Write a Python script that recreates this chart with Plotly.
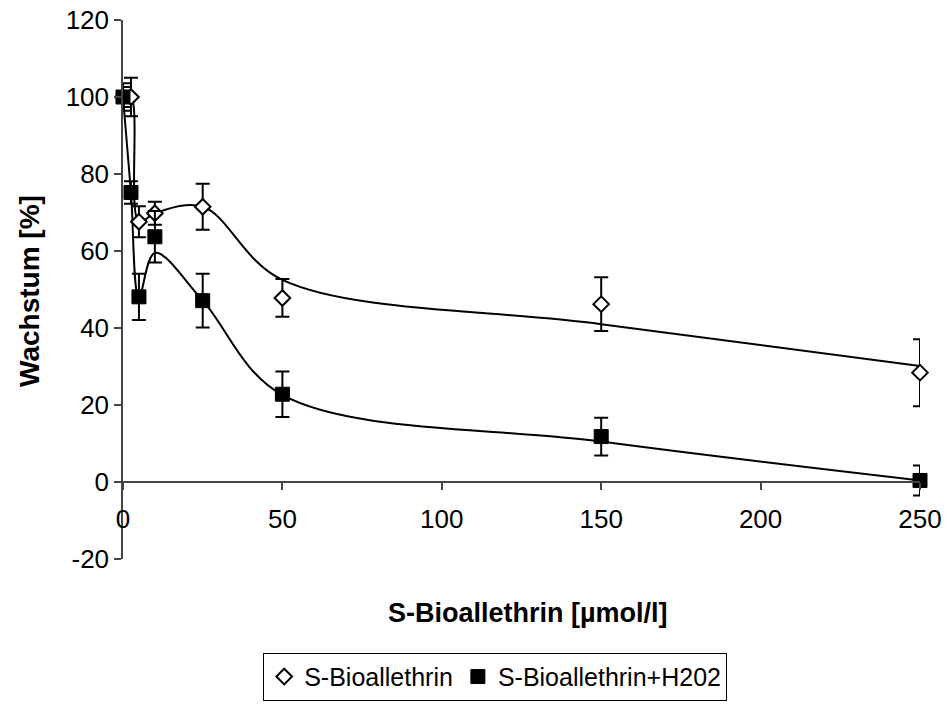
import plotly.graph_objects as go

# Data
# measured points with error bars
x_bio = [0, 2.5, 5, 10, 25, 50, 150, 250]
y_bio = [100, 100, 67.6, 69.8, 71.5, 47.8, 46.2, 28.4]
e_bio = [3.6, 5.0, 4.0, 3.0, 6.0, 4.9, 7.0, 8.7]

x_h2o2 = [0, 2.5, 5, 10, 25, 50, 150, 250]
y_h2o2 = [100, 75.2, 48.1, 63.7, 47.1, 22.8, 11.8, 0.4]
e_h2o2 = [2.6, 2.9, 6.0, 6.7, 7.0, 5.9, 4.9, 3.9]

# smoothed curves (separate series as drawn in the reference)
x_curve = [0, 2.5, 5, 10, 25, 50, 150, 250]
y_curve_bio = [100, 100, 67.6, 69.8, 71.5, 52.5, 41.0, 30.1]
y_curve_h2o2 = [100, 75.2, 48.1, 59.5, 47.1, 22.6, 10.5, 0.4]

x_ticks = [0, 50, 100, 150, 200, 250]
y_ticks = [-20, 0, 20, 40, 60, 80, 100, 120]

FONT = "Liberation Sans, Arial, sans-serif"

fig = go.Figure()

fig.add_trace(go.Scatter(x=x_curve, y=y_curve_bio, mode="lines",
                         line=dict(color="black", width=2, shape="spline", smoothing=1),
                         showlegend=False, hoverinfo="skip", cliponaxis=False))
fig.add_trace(go.Scatter(x=x_curve, y=y_curve_h2o2, mode="lines",
                         line=dict(color="black", width=2, shape="spline", smoothing=1),
                         showlegend=False, hoverinfo="skip", cliponaxis=False))

fig.add_trace(go.Scatter(x=x_bio, y=y_bio, mode="markers", name="S-Bioallethrin",
                         cliponaxis=False,
                         marker=dict(symbol="diamond", size=12, color="white",
                                     line=dict(color="black", width=2)),
                         error_y=dict(type="data", array=e_bio, visible=True,
                                      color="black", thickness=2, width=7)))
fig.add_trace(go.Scatter(x=x_h2o2, y=y_h2o2, mode="markers", name="S-Bioallethrin+H202",
                         cliponaxis=False,
                         marker=dict(symbol="square", size=14, color="black",
                                     line=dict(color="black", width=1)),
                         error_y=dict(type="data", array=e_h2o2, visible=True,
                                      color="black", thickness=2, width=7)))

fig.update_layout(
    width=947, height=716,
    margin=dict(l=123, r=27, t=20, b=157, autoexpand=False),
    paper_bgcolor="white", plot_bgcolor="white",
    font=dict(family=FONT, color="black", size=26),
    showlegend=True,
    legend=dict(orientation="h", x=0.467, xanchor="center", y=-0.174, yanchor="top",
                bordercolor="black", borderwidth=1, bgcolor="white",
                font=dict(size=25, family=FONT), itemwidth=30, tracegroupgap=0),
    xaxis=dict(range=[0, 250], tickvals=x_ticks, ticktext=[str(v) for v in x_ticks],
               showgrid=False, zeroline=False, showline=True, linecolor="#444", linewidth=1.5,
               ticks="outside", ticklen=7, tickcolor="#444", tickwidth=1.5,
               anchor="free", position=20/140, ticklabelstandoff=7, automargin=False,
               tickfont=dict(size=26, family=FONT)),
    yaxis=dict(range=[-20, 120], tickvals=y_ticks, ticktext=[str(v) for v in y_ticks],
               showgrid=False, zeroline=False, showline=True, linecolor="#444", linewidth=1.5,
               ticks="outside", ticklen=7, tickcolor="#444", tickwidth=1.5, automargin=False,
               tickfont=dict(size=26, family=FONT)),
    annotations=[
        dict(text="<b>Wachstum [%]</b>", textangle=-90, xref="paper", yref="paper",
             x=0, xshift=-94, y=(559 - 291) / 539, xanchor="center", yanchor="middle",
             showarrow=False, font=dict(size=28, family=FONT)),
        dict(text="<b>S-Bioallethrin [µmol/l]</b>", xref="paper", yref="paper",
             x=(528 - 123) / 797, y=(559 - 613) / 539, xanchor="center", yanchor="middle",
             showarrow=False, font=dict(size=27, family=FONT)),
    ],
)

fig.write_html("out.html")
